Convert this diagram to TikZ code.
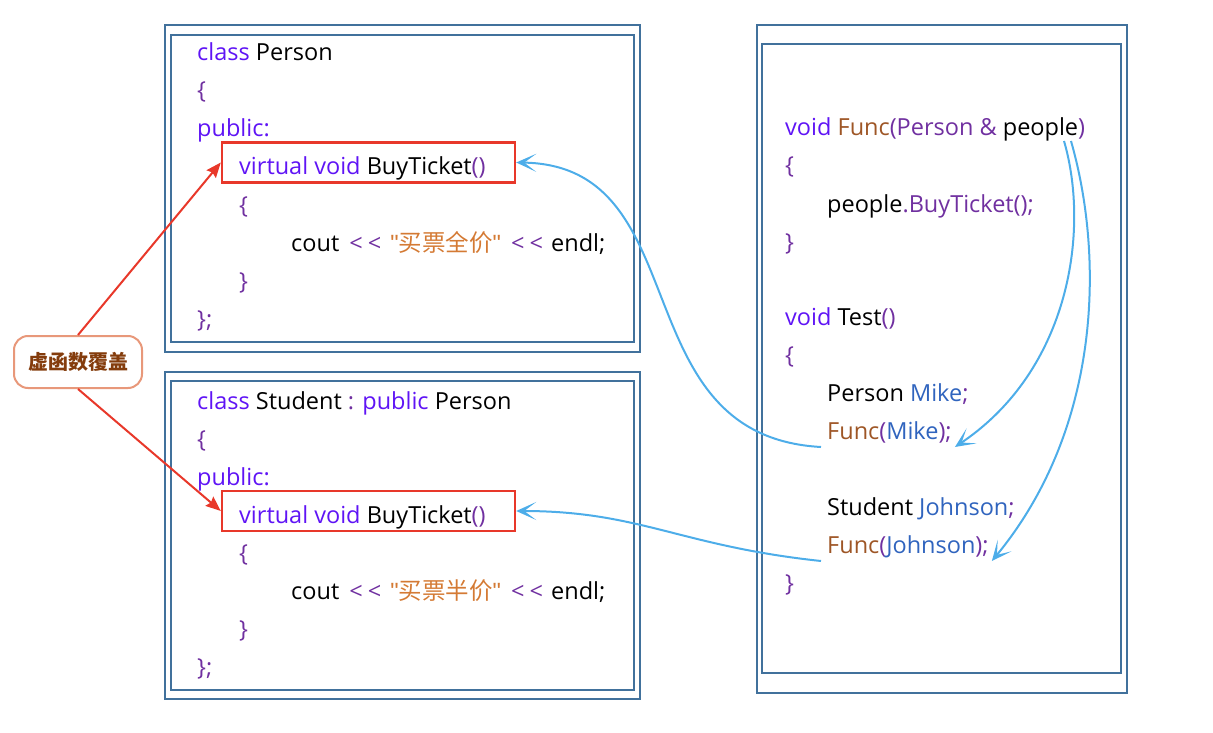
\documentclass[tikz,border=0pt]{standalone}
\usepackage{fontspec}
\setmainfont{Open Sans}
\newfontfamily\cjk{Noto Sans CJK SC}
\newfontfamily\qfont{Liberation Sans}
\usetikzlibrary{arrows.meta}
\definecolor{kw}{RGB}{95,20,245}
\definecolor{pu}{RGB}{112,48,160}
\definecolor{fn}{RGB}{158,86,38}
\definecolor{st}{RGB}{212,122,52}
\definecolor{vr}{RGB}{48,100,190}
\definecolor{frame}{RGB}{65,113,156}
\definecolor{redl}{RGB}{232,56,42}
\definecolor{bluel}{RGB}{77,173,233}
\definecolor{calloutb}{RGB}{232,152,122}
\definecolor{callt}{RGB}{132,60,12}
\newcommand{\qq}{{\qfont\symbol{34}}}
\newcommand{\shl}{\textcolor{pu}{<\hspace{5pt}<}}
\tikzset{
  code/.style={anchor=base west, inner sep=0pt, font=\fontsize{23.5}{27}\selectfont},
  framebox/.style={draw=frame, line width=2.4pt},
  redbox/.style={draw=redl, line width=2.4pt, inner sep=0pt},
  redarrow/.style={draw=redl, line width=2pt, -{Stealth[length=15pt,width=12pt,inset=2pt]}},
  bluearrow/.style={draw=bluel, line width=2pt, -{Stealth[length=20pt,width=18pt,inset=12pt]}},
  callout/.style={draw=calloutb, line width=2pt, rounded corners=14pt, fill=white,
    minimum width=128pt, minimum height=52pt, inner sep=0pt,
    text=callt, font=\cjk\bfseries\fontsize{20}{22}\selectfont}
}
\begin{document}
\begin{tikzpicture}[x=1pt,y=-1pt]
\useasboundingbox (0,0) rectangle (1213,733);
% frames
\draw[framebox] (165,25) rectangle (640,352);
\draw[framebox] (171,35) rectangle (634,342);
\draw[framebox] (165,372) rectangle (640,699);
\draw[framebox] (171,381) rectangle (634,690);
\draw[framebox] (757,25) rectangle (1127,693);
\draw[framebox] (762,44) rectangle (1121,673);
% red boxes
\node[redbox, minimum width=293pt, minimum height=40pt] (vb1) at (368.5,162.5) {};
\node[redbox, minimum width=293pt, minimum height=40pt] (vb2) at (368.5,511) {};
% Person class
\node[code] (p1) at (197,61) {\textcolor{kw}{class} Person};
\node[code] (p2) at (197,99) {\textcolor{pu}{\{}};
\node[code] (p3) at (197,137) {\textcolor{kw}{public:}};
\node[code] (p4) at (239,175) {\textcolor{kw}{virtual void} BuyTicket\textcolor{pu}{()}};
\node[code] (p5) at (239,213) {\textcolor{pu}{\{}};
\node[code] (p6) at (291,251) {cout\hspace{4pt} \shl\hspace{3pt} \textcolor{st}{\qq{\cjk 买票全价}\qq}\hspace{4pt} \shl\hspace{2pt} endl;};
\node[code] (p7) at (239,289) {\textcolor{pu}{\}}};
\node[code] (p8) at (197,327) {\textcolor{pu}{\};}};
% Student class
\node[code] (s1) at (197,409) {\textcolor{kw}{class} Student \textcolor{pu}{:} \textcolor{kw}{public} Person};
\node[code] (s2) at (197,447) {\textcolor{pu}{\{}};
\node[code] (s3) at (197,485) {\textcolor{kw}{public:}};
\node[code] (s4) at (239,523) {\textcolor{kw}{virtual void} BuyTicket\textcolor{pu}{()}};
\node[code] (s5) at (239,561) {\textcolor{pu}{\{}};
\node[code] (s6) at (291,599) {cout\hspace{4pt} \shl\hspace{3pt} \textcolor{st}{\qq{\cjk 买票半价}\qq}\hspace{4pt} \shl\hspace{2pt} endl;};
\node[code] (s7) at (239,637) {\textcolor{pu}{\}}};
\node[code] (s8) at (197,675) {\textcolor{pu}{\};}};
% right code
\node[code] (r1) at (785,136) {\textcolor{kw}{void} \textcolor{fn}{Func}\textcolor{pu}{(Person \& }people\textcolor{pu}{)}};
\node[code] (r2) at (785,174) {\textcolor{pu}{\{}};
\node[code] (r3) at (827,212) {people\textcolor{pu}{.BuyTicket();}};
\node[code] (r4) at (785,250) {\textcolor{pu}{\}}};
\node[code] (r5) at (785,325) {\textcolor{kw}{void} Test\textcolor{pu}{()}};
\node[code] (r6) at (785,363) {\textcolor{pu}{\{}};
\node[code] (r7) at (827,401) {Person \textcolor{vr}{Mike}\textcolor{pu}{;}};
\node[code] (funcmike) at (827,439) {\textcolor{fn}{Func}\textcolor{pu}{(}\textcolor{vr}{Mike}\textcolor{pu}{);}};
\node[code] (r9) at (827,515) {Student \textcolor{vr}{Johnson}\textcolor{pu}{;}};
\node[code] (funcjohn) at (827,553) {\textcolor{fn}{Func}\textcolor{pu}{(}\textcolor{vr}{Johnson}\textcolor{pu}{);}};
\node[code] (r11) at (785,591) {\textcolor{pu}{\}}};
% callout
\node[callout] (callout) at (78,362) {虚函数覆盖};
% red arrows
\draw[redarrow] (callout.north) -- (vb1.west);
\draw[redarrow] (callout.south) -- (vb2.west);
% blue arrows
\coordinate (pa) at (1064,141);
\coordinate (pb) at (1071,141);
\draw[bluearrow] ([xshift=-6pt,yshift=-8pt]funcmike.base west) .. controls (620,436) and (700,165) .. (vb1.east);
\draw[bluearrow] ([xshift=-6pt,yshift=-8pt]funcjohn.base west) .. controls (680,546) and (640,511) .. (vb2.east);
\draw[bluearrow] (pa) .. controls (1090,230) and (1070,370) .. ([xshift=3pt,yshift=-8pt]funcmike.base east);
\draw[bluearrow] (pb) .. controls (1105,260) and (1100,430) .. ([xshift=3pt,yshift=-8pt]funcjohn.base east);
\end{tikzpicture}
\end{document}
